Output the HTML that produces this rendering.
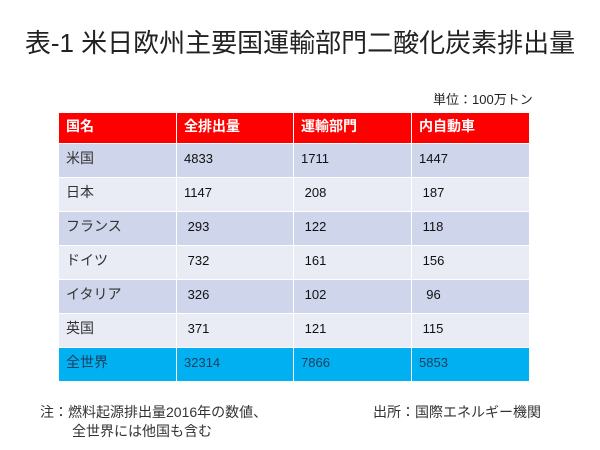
<!DOCTYPE html>
<html><head><meta charset="utf-8"><style>
body{margin:0;width:600px;height:450px;background:#fff;font-family:"Liberation Sans","Noto Sans CJK JP",sans-serif;position:relative;overflow:hidden}
.t{position:absolute;white-space:nowrap}
table{position:absolute;left:58px;top:112px;border-collapse:collapse;width:471px;table-layout:fixed}
td{border:1px solid #fff;padding:7px 0 0 7px;font-size:13px;line-height:16px;color:#111;vertical-align:top;box-sizing:border-box}
tr.h td{background:#ff0000;color:#fff;font-weight:bold;height:31px;font-size:14px;padding-top:5px}
tr.a td{background:#cfd5ea;height:34px}
tr.b td{background:#e9ebf5;height:34px}
tr.w td{background:#00b0f0;height:34px;color:#1f3d5c}
td:first-child{font-size:14px;color:#333;padding-top:6px}
tr.h td:first-child{color:#fff;padding-top:5px}
tr.w td:first-child{color:#1f3d5c}
</style></head><body>
<div class="t" style="left:0;width:600px;text-align:center;top:23px;font-size:26px;color:#222">表-1 米日欧州主要国運輸部門二酸化炭素排出量</div>
<div class="t" style="left:433px;top:89px;font-size:13px;color:#222">単位：100万トン</div>
<table>
<colgroup><col style="width:118px"><col style="width:117px"><col style="width:118px"><col style="width:118px"></colgroup>
<tr class="h"><td>国名</td><td>全排出量</td><td>運輸部門</td><td>内自動車</td></tr>
<tr class="a"><td>米国</td><td>4833</td><td>1711</td><td>1447</td></tr>
<tr class="b"><td>日本</td><td>1147</td><td>&nbsp;208</td><td>&nbsp;187</td></tr>
<tr class="a"><td>フランス</td><td>&nbsp;293</td><td>&nbsp;122</td><td>&nbsp;118</td></tr>
<tr class="b"><td>ドイツ</td><td>&nbsp;732</td><td>&nbsp;161</td><td>&nbsp;156</td></tr>
<tr class="a"><td>イタリア</td><td>&nbsp;326</td><td>&nbsp;102</td><td>&nbsp;&nbsp;96</td></tr>
<tr class="b"><td>英国</td><td>&nbsp;371</td><td>&nbsp;121</td><td>&nbsp;115</td></tr>
<tr class="w"><td>全世界</td><td>32314</td><td>7866</td><td>5853</td></tr>
</table>
<div class="t" style="left:40px;top:402px;font-size:14px;color:#333">注：燃料起源排出量2016年の数値、</div>
<div class="t" style="left:72px;top:421px;font-size:14px;color:#333">全世界には他国も含む</div>
<div class="t" style="left:373px;top:402px;font-size:14px;color:#333">出所：国際エネルギー機関</div>
</body></html>
